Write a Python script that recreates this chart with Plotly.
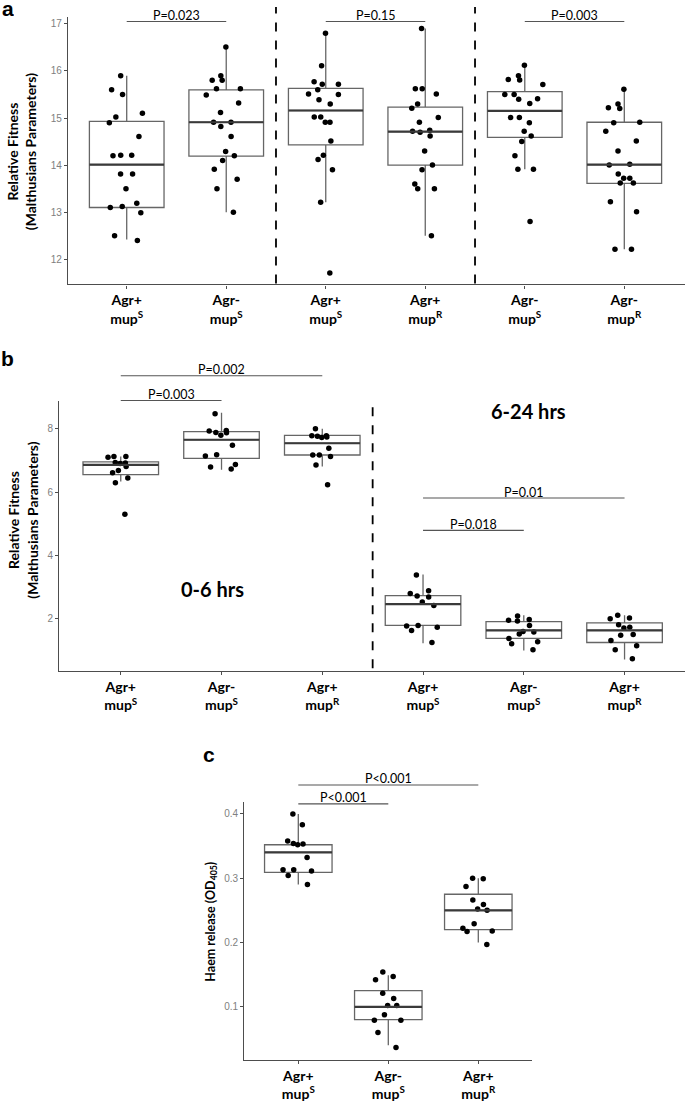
import plotly.graph_objects as go

W, H = 685, 1102

# ---------------- data ----------------
# Panel a
a_strain = ["Agr+", "Agr-", "Agr+", "Agr+", "Agr-", "Agr-"]
a_mup = ["S", "S", "S", "R", "S", "R"]
a_points = [
    [15.60, 15.90, 15.50, 15.02, 15.10, 14.90, 14.61, 14.20, 14.21, 14.21, 13.81, 13.81, 13.50, 13.19, 13.12, 12.99, 13.10, 12.50, 12.40],
    [15.80, 15.90, 16.51, 15.80, 15.62, 15.62, 15.49, 15.32, 15.12, 14.91, 14.91, 14.82, 14.61, 14.29, 14.20, 14.10, 13.91, 13.70, 13.50, 13.00],
    [16.80, 16.11, 15.72, 15.77, 15.72, 15.60, 15.50, 15.51, 15.30, 15.39, 15.02, 15.02, 14.91, 14.91, 14.51, 14.21, 14.12, 13.90, 13.21, 11.71],
    [16.90, 15.62, 15.51, 15.62, 15.30, 15.21, 15.01, 14.91, 14.74, 14.62, 14.72, 14.70, 14.30, 14.00, 13.90, 13.60, 13.50, 13.50, 12.50],
    [16.12, 15.81, 15.82, 15.90, 15.71, 15.40, 15.50, 15.50, 15.41, 15.31, 15.01, 15.01, 14.90, 14.72, 14.62, 14.50, 14.20, 13.91, 13.91, 12.80],
    [15.61, 15.20, 15.22, 15.30, 14.91, 14.90, 14.72, 14.51, 14.30, 14.00, 14.02, 13.72, 13.72, 13.81, 13.62, 13.62, 13.22, 13.01, 12.21, 12.21],
]
a_q1 = [13.10, 14.19, 14.43, 14.00, 14.59, 13.61]
a_med = [14.01, 14.91, 15.16, 14.71, 15.15, 14.01]
a_q3 = [14.93, 15.60, 15.63, 15.23, 15.56, 14.91]
a_lo = [12.42, 13.00, 13.21, 12.50, 13.91, 12.21]
a_hi = [15.90, 16.51, 16.80, 16.90, 16.12, 15.61]
a_pvals = [(0, 1, 17.05, "P=0.023"), (2, 3, 17.05, "P=0.15"), (4, 5, 17.05, "P=0.003")]
a_ticks = [12, 13, 14, 15, 16, 17]

# Panel b
b_strain = ["Agr+", "Agr-", "Agr+", "Agr+", "Agr-", "Agr+"]
b_mup = ["S", "S", "R", "S", "S", "R"]
b_points = [
    [6.29, 6.68, 6.81, 6.90, 6.93, 7.12, 7.12, 7.10, 6.92, 6.61, 6.44, 5.30],
    [6.73, 6.79, 7.14, 7.18, 6.87, 7.88, 7.93, 7.94, 7.87, 7.79, 7.48, 8.47],
    [6.85, 7.78, 7.78, 7.76, 7.74, 8.00, 7.72, 7.38, 7.17, 7.12, 7.17, 6.23],
    [3.38, 2.88, 2.80, 2.72, 2.69, 2.53, 2.42, 1.73, 1.79, 1.77, 1.63, 1.25],
    [1.95, 1.98, 2.09, 1.93, 1.79, 1.60, 1.58, 1.52, 1.38, 1.27, 1.21, 1.02],
    [2.02, 2.11, 2.00, 1.81, 1.71, 1.73, 1.48, 1.50, 1.31, 1.15, 1.02, 0.74],
]
b_q1 = [6.55, 7.06, 7.17, 1.79, 1.38, 1.25]
b_med = [6.86, 7.65, 7.54, 2.46, 1.63, 1.63]
b_q3 = [6.95, 7.91, 7.79, 2.73, 1.91, 1.87]
b_lo = [6.33, 6.70, 6.81, 1.23, 1.00, 0.71]
b_hi = [7.12, 8.50, 8.00, 3.40, 2.11, 2.11]
b_pvals = [(0, 1, 8.89, "P=0.003"), (0, 2, 9.67, "P=0.002"), (3, 4, 4.79, "P=0.018"), (3, 5, 5.81, "P=0.01")]
b_ticks = [2, 4, 6, 8]

# Panel c
c_strain = ["Agr+", "Agr-", "Agr+"]
c_mup = ["S", "S", "R"]
c_points = [
    [0.400, 0.383, 0.358, 0.352, 0.354, 0.353, 0.332, 0.313, 0.313, 0.311, 0.304, 0.290],
    [0.121, 0.113, 0.0876, 0.079, 0.079, 0.102, 0.102, 0.154, 0.147, 0.142, 0.060, 0.0366],
    [0.300, 0.299, 0.287, 0.266, 0.259, 0.250, 0.252, 0.229, 0.222, 0.217, 0.218, 0.197],
]
c_q1 = [0.309, 0.080, 0.220]
c_med = [0.340, 0.100, 0.250]
c_q3 = [0.352, 0.125, 0.275]
c_lo = [0.290, 0.040, 0.200]
c_hi = [0.400, 0.149, 0.300]
c_pvals = [(0, 1, 0.4155, "P<0.001"), (0, 2, 0.445, "P<0.001")]
c_ticks = [0.1, 0.2, 0.3, 0.4]

# ---------------- helpers ----------------
def px(x):
    return x / W

def py(y):
    return 1 - y / H

BOXW = 0.75
BOX_COLOR = "#666666"
MED_COLOR = "#3a3a3a"
AXIS_COLOR = "#4d4d4d"
CAT_FONT = dict(family="Lato", size=14, color="black")
NUM_FONT = dict(family="Liberation Sans", size=10, color="#808080")

fig = go.Figure()
shapes = []
annotations = []

panels = [
    ("", a_points, a_q1, a_med, a_q3, a_lo, a_hi, a_strain, a_mup, a_pvals, a_ticks,
     [-0.59, 5.61], [11.465, 17.148], (68, 685), (17, 286)),
    ("2", b_points, b_q1, b_med, b_q3, b_lo, b_hi, b_strain, b_mup, b_pvals, b_ticks,
     [-0.61, 5.60], [0.34, 8.88], (59.3, 685), (403, 675)),
    ("3", c_points, c_q1, c_med, c_q3, c_lo, c_hi, c_strain, c_mup, c_pvals, c_ticks,
     [-0.6, 2.6], [0.0174, 0.418], (244.3, 532.3), (806.7, 1065.7)),
]

for (suf, pts, q1, med, q3, lo, hi, strains, mups, pvals, ticks, xr, yr, xd, yd) in panels:
    xa, ya = "x" + suf, "y" + suf
    n = len(pts)
    for i in range(n):
        fig.add_trace(go.Box(
            x=[i], q1=[q1[i]], median=[med[i]], q3=[q3[i]],
            lowerfence=[lo[i]], upperfence=[hi[i]],
            width=BOXW, whiskerwidth=0, boxpoints=False,
            fillcolor="white", line=dict(color=BOX_COLOR, width=1.3),
            xaxis=xa, yaxis=ya, showlegend=False, hoverinfo="skip"))
        fig.add_trace(go.Scatter(
            x=[i - BOXW / 2, i + BOXW / 2], y=[med[i], med[i]], mode="lines",
            line=dict(color=MED_COLOR, width=2.2),
            xaxis=xa, yaxis=ya, showlegend=False, hoverinfo="skip"))
    for i in range(n):
        fig.add_trace(go.Box(
            x=[i] * len(pts[i]), y=pts[i], boxpoints="all", jitter=0.55, pointpos=0,
            width=BOXW, fillcolor="rgba(0,0,0,0)", line=dict(width=0, color="rgba(0,0,0,0)"),
            marker=dict(color="black", size=5.5),
            xaxis=xa, yaxis=ya, showlegend=False, hoverinfo="skip"))
    for (g0, g1, yv, txt) in pvals:
        frac = (yv - yr[0]) / (yr[1] - yr[0])
        shapes.append(dict(type="line", xref=xa, yref=ya + " domain", x0=g0, x1=g1,
                           y0=frac, y1=frac, line=dict(color="#555555", width=1.1)))
        annotations.append(dict(x=(g0 + g1) / 2, y=frac, xref=xa, yref=ya + " domain",
                                text=txt, showarrow=False, xanchor="center", yanchor="middle", yshift=6,
                                font=dict(family="Lato", size=12.5, color="black")))
    ticktext = ["<b>%s<br>mup<sup>%s</sup></b>" % (s, m) for s, m in zip(strains, mups)]
    fig.layout["xaxis" + suf] = dict(
        domain=[px(xd[0]), px(xd[1])], range=xr, anchor=ya,
        tickmode="array", tickvals=list(range(n)), ticktext=ticktext,
        showgrid=False, zeroline=False, showline=True, linecolor=AXIS_COLOR, linewidth=1.3,
        ticks="outside", ticklen=3, tickcolor=AXIS_COLOR, tickfont=CAT_FONT)
    fig.layout["yaxis" + suf] = dict(
        domain=[py(yd[1]), py(yd[0])], range=yr, anchor=xa,
        tickmode="array", tickvals=ticks, ticktext=[str(t) for t in ticks],
        showgrid=False, zeroline=False, showline=True, linecolor=AXIS_COLOR, linewidth=1.3,
        ticks="outside", ticklen=3, tickcolor=AXIS_COLOR, tickfont=NUM_FONT)

# dashed separators
for xv in (1.5, 3.5):
    shapes.append(dict(type="line", xref="x", yref="paper", x0=xv, x1=xv,
                       y0=py(285), y1=py(7), line=dict(color="black", width=1.8, dash="dash")))
shapes.append(dict(type="line", xref="x2", yref="paper", x0=2.5, x1=2.5,
                   y0=py(672), y1=py(403), line=dict(color="black", width=1.8, dash="dash")))

def label(text, x, y, size, family="Lato", angle=0, **kw):
    d = dict(x=px(x), y=py(y), xref="paper", yref="paper", text=text,
             xanchor="center", yanchor="middle", textangle=angle, showarrow=False,
             font=dict(family=family, size=size, color="black"))
    d.update(kw)
    annotations.append(d)

# panel labels
label("<b>a</b>", 8, 8.5, 21, family="Liberation Sans", height=17, borderpad=0)
label("<b>b</b>", 8, 360, 21, family="Liberation Sans")
label("<b>c</b>", 209, 759, 21, family="Liberation Sans")

# y axis titles
ytitle_fit = "<b>Relative Fitness<br>(Malthusians Parameters)</b>"
label(ytitle_fit, 21, 153, 14, angle=-90)
label(ytitle_fit, 22.5, 523, 14, angle=-90)
label("<b>Haem release (OD<sub>405</sub>)</b>", 211.7, 927, 12.5, angle=-90)

# time window labels
label("<b>0-6 hrs</b>", 213, 592, 20)
label("<b>6-24 hrs</b>", 528, 413, 20)

fig.update_layout(
    width=W, height=H, margin=dict(l=0, r=0, t=0, b=0),
    plot_bgcolor="white", paper_bgcolor="white",
    shapes=shapes, annotations=annotations, showlegend=False, boxmode="overlay")

fig.write_html("out.html", config={"displayModeBar": False},
               post_script="document.body.style.margin='0';")
